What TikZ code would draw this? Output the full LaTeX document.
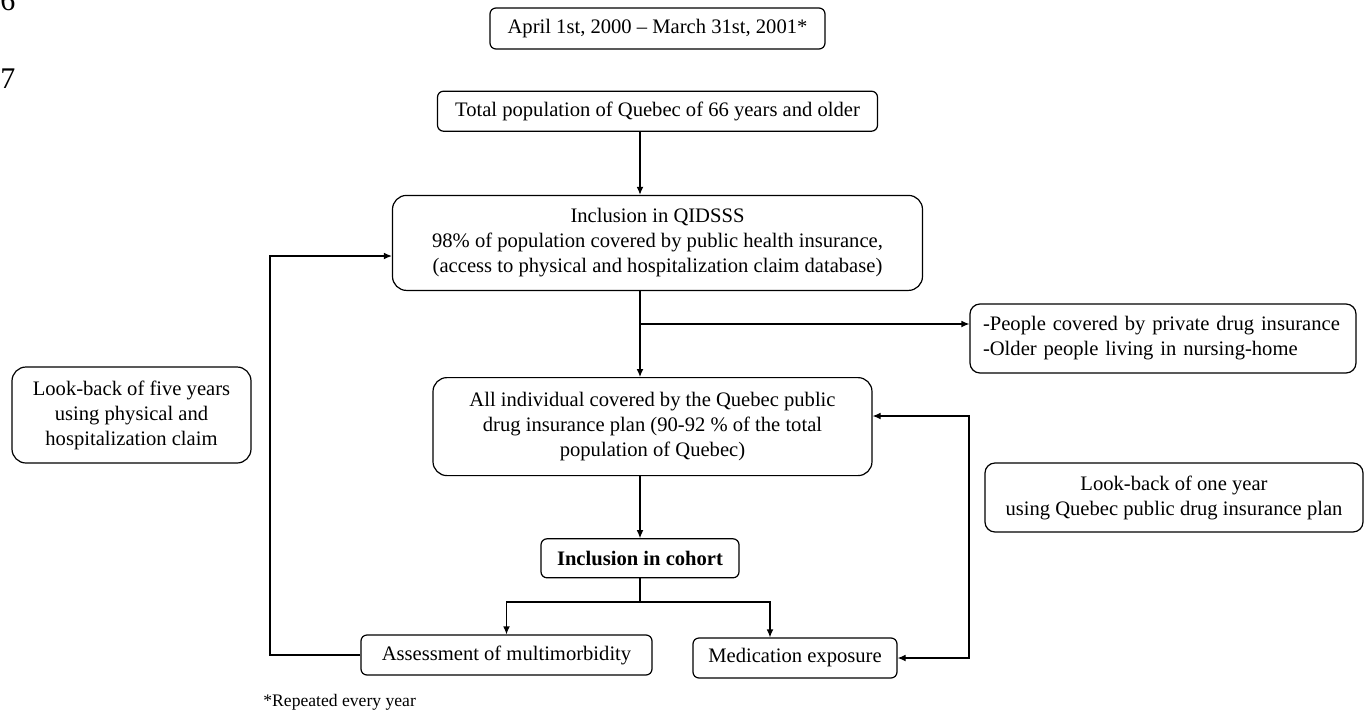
\documentclass[tikz,border=0pt]{standalone}
\usepackage{fontspec}
\setmainfont{Liberation Serif}
\usetikzlibrary{arrows.meta,positioning}

\begin{document}
\begin{tikzpicture}[
  x=0.5pt, y=-0.5pt,
  font=\fontsize{10.3}{12.5}\selectfont,
  node distance=31pt,
  flowbox/.style={draw, rounded corners=3pt, align=center, inner sep=3pt, line width=0.6pt},
  widebox/.style={flowbox, rounded corners=7pt},
  arrow/.style={-{Latex[length=4pt,width=3.4pt]}, line width=0.6pt},
  twoway/.style={{Latex[length=4pt,width=3.4pt]}-{Latex[length=4pt,width=3.4pt]}, line width=0.6pt},
  plain/.style={line width=0.6pt},
  linenum/.style={anchor=base west, inner sep=0pt, font=\fontsize{15}{18}\selectfont}
]
\useasboundingbox (0,0) rectangle (1367,713);
\node[linenum] (num6) at (0,10) {6};
\node[linenum] (num7) at (0,88) {7};
\node[flowbox, minimum width=167.5pt, minimum height=20.5pt] (period) at (657.5,28.5) {April 1st, 2000 -- March 31st, 2001*};
\node[flowbox, minimum width=220pt, minimum height=20pt, below=20.5pt of period] (total) {Total population of Quebec of 66 years and older};
\node[widebox, minimum width=265pt, minimum height=47.5pt, below=31.5pt of total] (qidsss) {Inclusion in QIDSSS\\98\% of population covered by public health insurance,\\(access to physical and hospitalization claim database)};
\node[widebox, minimum width=219.5pt, minimum height=49pt, below=43pt of qidsss, xshift=-2.5pt] (all) {All individual covered by the Quebec public\\drug insurance plan (90-92 \% of the total\\population of Quebec)};
\node[flowbox, minimum width=99pt, minimum height=19.5pt, below=31pt of all, xshift=-6.25pt] (cohort) {\textbf{Inclusion in cohort}};
\node[flowbox, minimum width=145.5pt, minimum height=20pt] (assess) at (506.5,655) {Assessment of multimorbidity};
\node[flowbox, minimum width=102pt, minimum height=20pt] (med) at (795,658) {Medication exposure};
\node[widebox, rounded corners=5pt, align=left, minimum width=193pt, minimum height=34.5pt, text width=180pt] (people) at (1163,338.5) {-People covered by private drug insurance\\-Older people living in nursing-home};
\node[widebox, minimum width=119.5pt, minimum height=48pt] (look5) at (131.5,415) {Look-back of five years\\using physical and\\hospitalization claim};
\node[widebox, rounded corners=5pt, minimum width=189pt, minimum height=34.5pt] (look1) at (1174,497.5) {Look-back of one year\\using Quebec public drug insurance plan};
\node[anchor=base west, inner sep=0pt, font=\fontsize{8.8}{10}\selectfont] (note) at (263,706) {*Repeated every year};
\draw[arrow] (total.south -| cohort) -- (qidsss.north -| cohort);
\draw[arrow] (qidsss.south -| cohort) -- (all.north -| cohort);
\coordinate (excl) at (640,324);
\draw[arrow] (excl) -- (excl -| people.west);
\draw[arrow] (all.south -| cohort) -- (cohort.north);
\coordinate (split) at (640,602);
\draw[plain] (cohort.south) -- (split);
\draw[arrow] (split) -| (assess.north);
\draw[arrow] (split) -| ([xshift=-12.5pt]med.north);
\coordinate (loopL) at (270,256);
\draw[arrow] (assess.west) -| (loopL) -- (loopL -| qidsss.west);
\coordinate (loopR) at (969,416);
\draw[twoway] (loopR -| all.east) -- (loopR) |- (med.east);
\end{tikzpicture}
\end{document}
